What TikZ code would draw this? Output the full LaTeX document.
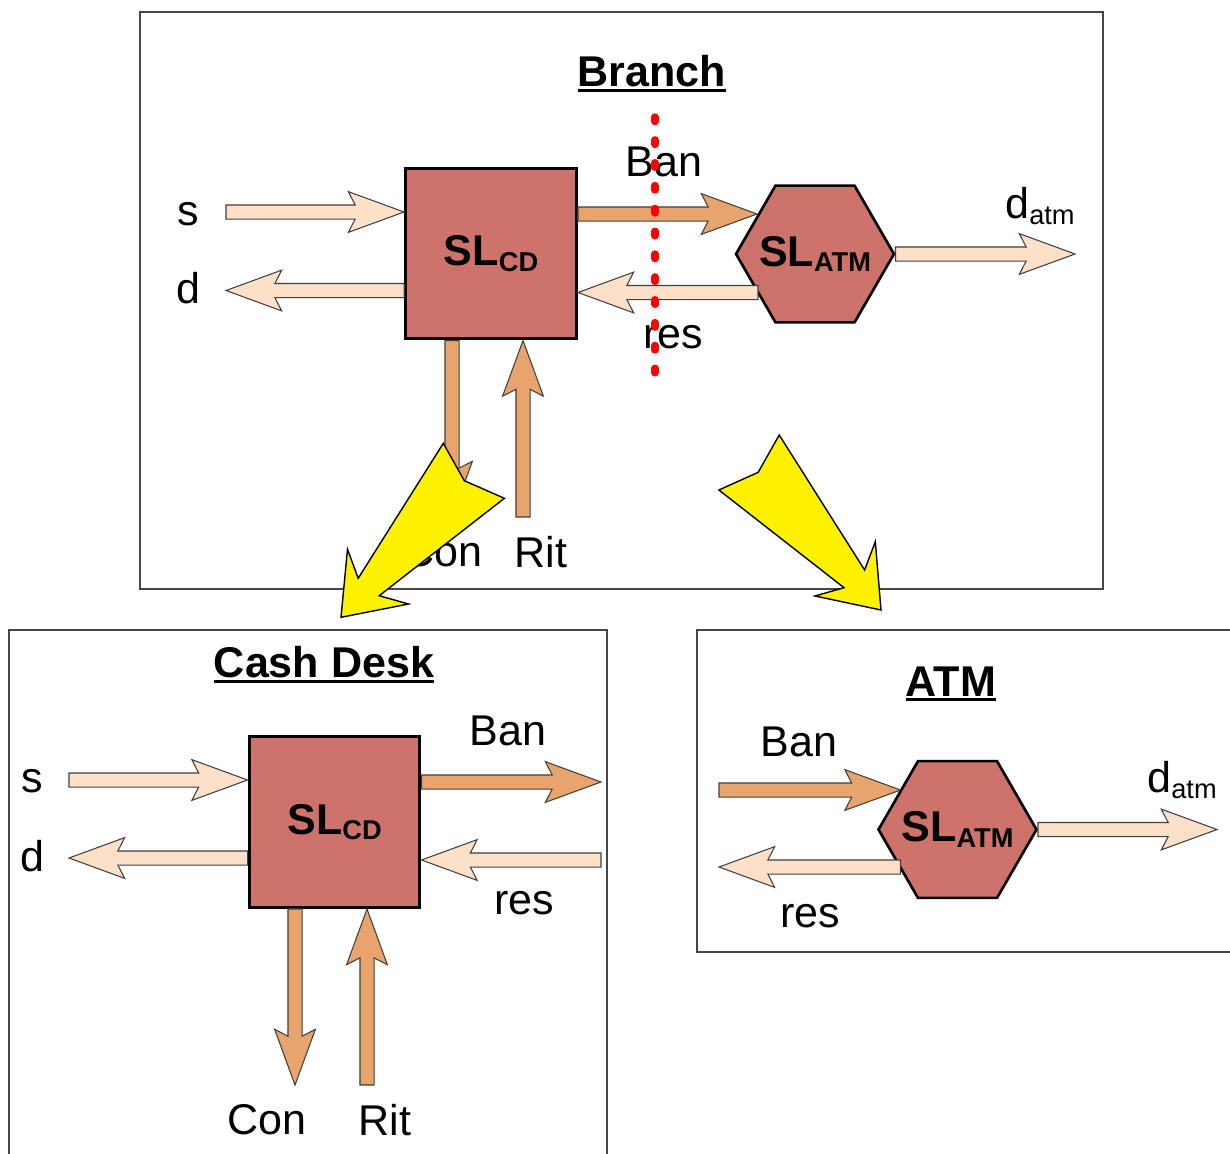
\documentclass[tikz,border=0pt]{standalone}
\usepackage{fontspec}
\setmainfont{Liberation Sans}
\usetikzlibrary{calc, shapes.geometric}

\definecolor{slfill}{RGB}{205,115,107}
\definecolor{peach}{RGB}{252,224,200}
\definecolor{ochre}{RGB}{232,164,108}
\definecolor{panelgray}{RGB}{70,70,70}

\newcommand{\lowidx}[1]{\raisebox{-3pt}{\fontsize{15.5}{18}\selectfont #1}}
\newcommand{\utitle}[1]{\setbox0\hbox{#1}\rlap{\rule[-3pt]{\wd0}{1.7pt}}\box0}
% block arrow from #2 to #3
\newcommand{\fatarrow}[3][peach]{%
  \coordinate (fa-s) at #2;
  \coordinate (fa-t) at #3;
  \coordinate (fa-b) at ($(fa-t)!31.7pt!(fa-s)$);
  \coordinate (fa-n) at ($(fa-t)!27.8pt!(fa-s)$);
  \draw[blockarrow, fill=#1] ($(fa-s)!4pt!90:(fa-t)$) -- ($(fa-n)!4pt!90:(fa-t)$)
    -- ($(fa-b)!11.6pt!90:(fa-t)$) -- (fa-t) -- ($(fa-b)!11.6pt!-90:(fa-t)$)
    -- ($(fa-n)!4pt!-90:(fa-t)$) -- ($(fa-s)!4pt!-90:(fa-t)$) -- cycle;}

\begin{document}
\begin{tikzpicture}[
    x=0.02cm, y=-0.02cm,
    lbl/.style={font=\fontsize{24.5}{28}\selectfont, inner sep=0pt},
    title/.style={font=\fontsize{24.5}{28}\selectfont\bfseries, inner sep=0pt},
    sltext/.style={font=\fontsize{24.5}{28}\selectfont\bfseries, inner sep=0pt},
    slbox/.style={rectangle, draw=black, line width=1.7pt, fill=slfill, minimum size=3.42cm,
      inner sep=0pt, sltext},
    slhex/.style={regular polygon, regular polygon sides=6, draw=black, line width=1.5pt,
      fill=slfill, minimum size=3.16cm, inner sep=0pt},
    blockarrow/.style={draw=black!75, line width=0.6pt, line join=miter},
    panel/.style={draw=panelgray, line width=0.8pt},
    refine/.style={draw=black, line width=0.8pt, fill=yellow, line join=miter},
    cut/.style={draw=red, line width=4.2pt, line cap=round, dash pattern=on 2.6pt off 10.4pt}
  ]
  \clip (0,0) rectangle (1230,1153);

  % panels
  \draw[panel] (140,12) rectangle (1103,589);
  \draw[panel] (9,630) rectangle (607,1170);
  \draw[panel] (697,630) rectangle (1245,952);

  % Branch
  \node[title] (branchT) at (652,74) {\utitle{Branch}};
  \node[slbox] (cdB) at (491,253.5) {SL\lowidx{CD}};
  \node[slhex, label={[sltext]center:SL\lowidx{ATM}}] (atmB) at (815,254) {};
  \node[lbl] (sB-l) at (188,214) {s};
  \node[lbl] (dB-l) at (188,288) {d};
  \node[lbl] (banB-l) at (664,162) {Ban};
  \node[lbl] (resB-l) at (673,337) {res};
  \node[lbl] (datmB-l) at (1040,206) {d\lowidx{atm}};
  \node[lbl] (conB-l) at (443,552) {Con};
  \node[lbl] (ritB-l) at (541,552) {Rit};

  \coordinate (sB) at (226,212);
  \coordinate (dB) at (226,290.5);
  \coordinate (banB) at ($(atmB.center)+(-58,-40)$);
  \coordinate (resB) at ($(atmB.center)+(-57,38.5)$);
  \coordinate (datmB) at (1075,254);
  \coordinate (conB) at (452,517);
  \coordinate (ritB) at (523,517);

  \fatarrow{(sB)}{(cdB.west |- sB)}
  \fatarrow{(cdB.west |- dB)}{(dB)}
  \fatarrow[ochre]{(cdB.east |- banB)}{(banB)}
  \fatarrow{(resB)}{(cdB.east |- resB)}
  \fatarrow{(atmB.east)}{(datmB)}
  \fatarrow[ochre]{(cdB.south -| conB)}{(conB)}
  \fatarrow[ochre]{(ritB)}{(cdB.south -| ritB)}

  % Cash Desk
  \node[title] (cashT) at (324,665) {\utitle{Cash Desk}};
  \node[slbox] (cdC) at (334.5,822) {SL\lowidx{CD}};
  \node[lbl] (sC-l) at (32,781) {s};
  \node[lbl] (dC-l) at (32,856) {d};
  \node[lbl] (banC-l) at (508,731) {Ban};
  \node[lbl] (resC-l) at (524,903) {res};
  \node[lbl] (conC-l) at (267,1120) {Con};
  \node[lbl] (ritC-l) at (385,1120) {Rit};

  \coordinate (sC) at (69,780);
  \coordinate (dC) at (69,858);
  \coordinate (banC) at (601,782);
  \coordinate (resC) at (601,860);
  \coordinate (conC) at (295,1085);
  \coordinate (ritC) at (367,1085);

  \fatarrow{(sC)}{(cdC.west |- sC)}
  \fatarrow{(cdC.west |- dC)}{(dC)}
  \fatarrow[ochre]{(cdC.east |- banC)}{(banC)}
  \fatarrow{(resC)}{(cdC.east |- resC)}
  \fatarrow[ochre]{(cdC.south -| conC)}{(conC)}
  \fatarrow[ochre]{(ritC)}{(cdC.south -| ritC)}

  % ATM
  \node[title] (atmT) at (951,684) {\utitle{ATM}};
  \node[slhex, label={[sltext]center:SL\lowidx{ATM}}] (atmA) at (957.5,829.5) {};
  \node[lbl] (banA-l) at (799,742) {Ban};
  \node[lbl] (resA-l) at (810,916) {res};
  \node[lbl] (datmA-l) at (1182,780) {d\lowidx{atm}};

  \coordinate (banA) at (719,790);
  \coordinate (resA) at (719,867);
  \coordinate (datmA) at (1217,829.5);

  \fatarrow[ochre]{(banA)}{($(atmA.center)+(-57,-39.5)$)}
  \fatarrow{($(atmA.center)+(-57,37.5)$)}{(resA)}
  \fatarrow{(atmA.east)}{(datmA)}

  % refinement arrows
  \draw[refine] (443.3,443.3) -- (358.2,578.3) -- (347.5,549.3) -- (341,617.3) -- (408.5,604)
    -- (379.2,595.7) -- (504.4,498.3) -- (464.3,480.7) -- cycle;
  \draw[refine] (779.2,435) -- (864.6,570) -- (875.3,541.7) -- (881,610) -- (815,596)
    -- (844,587.7) -- (718.9,490) -- (758.2,472.3) -- cycle;

  % cut line
  \draw[cut] (655,117) -- (655,390);
\end{tikzpicture}
\end{document}
